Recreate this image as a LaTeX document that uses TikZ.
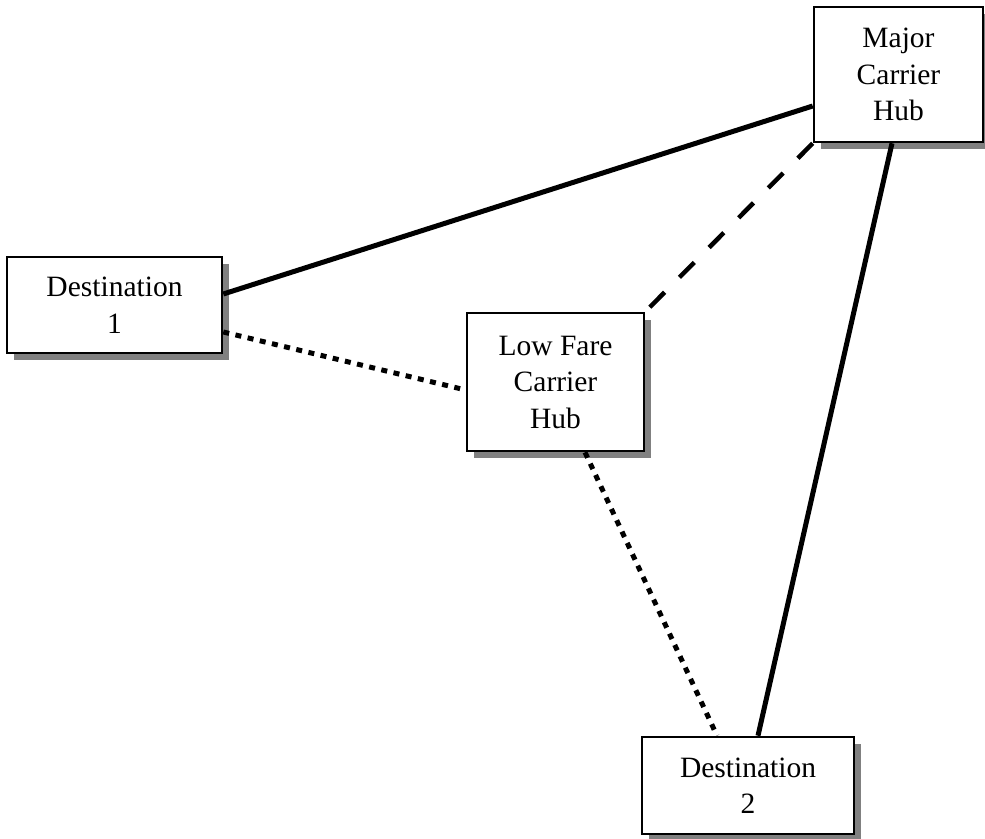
\documentclass[tikz,border=0pt]{standalone}
\usepackage{fontspec}
\setmainfont{Liberation Serif}
\usetikzlibrary{shadows}
\begin{document}
\begin{tikzpicture}[x=1pt,y=-1pt,
  box/.style={draw=black, line width=2.6pt, fill=white, align=center, inner sep=0pt,
    font=\fontsize{29.5}{36.5}\selectfont,
    drop shadow={shadow xshift=6.5pt, shadow yshift=-6.5pt, fill=black!50, opacity=1}},
  solidlink/.style={line width=5pt},
  dashlink/.style={line width=4.5pt, dash pattern=on 21pt off 21pt},
  dotlink/.style={line width=5pt, dash pattern=on 6pt off 6.5pt}]
\useasboundingbox (0,0) rectangle (985,838);
\node[box, minimum width=215pt, minimum height=96pt] (d1) at (114.5,305) {Destination\\1};
\node[box, minimum width=169pt, minimum height=135pt] (maj) at (898.5,74.5) {Major\\Carrier\\Hub};
\node[box, minimum width=177pt, minimum height=138pt] (lf) at (555.5,382) {Low Fare\\Carrier\\Hub};
\node[box, minimum width=212pt, minimum height=97pt] (d2) at (748,785.5) {Destination\\2};
\draw[solidlink] ([yshift=11pt]d1.east) -- ([yshift=-31.5pt]maj.west);
\draw[dashlink] (maj.south west) -- (lf.north east);
\draw[dotlink] ([yshift=-27pt]d1.east) -- ([yshift=-8pt]lf.west);
\draw[dotlink] ([xshift=29.5pt]lf.south) -- ([xshift=-31pt]d2.north);
\draw[solidlink] ([xshift=-6.5pt]maj.south) -- ([xshift=10pt]d2.north);
\end{tikzpicture}
\end{document}
